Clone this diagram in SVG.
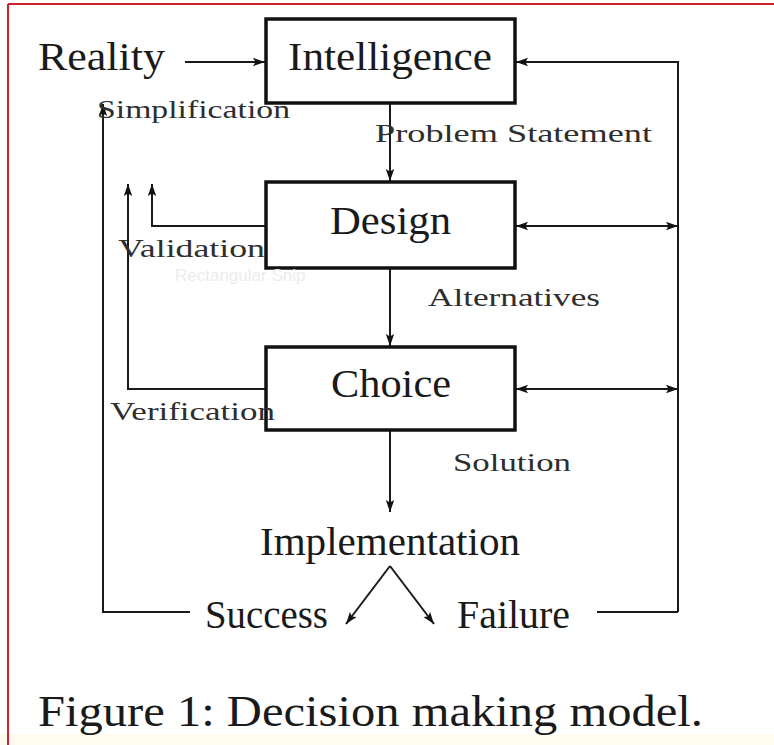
<svg xmlns="http://www.w3.org/2000/svg" width="774" height="745" viewBox="0 0 774 745">
  <defs>
    <marker id="ah" markerUnits="userSpaceOnUse" markerWidth="14" markerHeight="10" refX="12" refY="5" orient="auto-start-reverse">
      <path d="M0,0.8 L12,5 L0,9.2 L2.5,5 Z" fill="#111"/>
    </marker>
    <style>
      .box { fill: #fff; stroke: #111; stroke-width: 3.5; }
      .big { font-family: "Liberation Serif", "DejaVu Serif", serif; font-size: 39px; fill: #1a1a1a; }
      .lbl { font-family: "Liberation Serif", "DejaVu Serif", serif; font-size: 26px; fill: #2e2e2e; }
      .cap { font-family: "Liberation Serif", "DejaVu Serif", serif; font-size: 45px; fill: #1a1a1a; }
      .wire { fill: none; stroke: #1a1a1a; stroke-width: 2; }
      .arr { fill: none; stroke: #1a1a1a; stroke-width: 2; marker-end: url(#ah); }
      .dbl { fill: none; stroke: #1a1a1a; stroke-width: 2; marker-start: url(#ah); marker-end: url(#ah); }
    </style>
  </defs>

  <!-- page background and frame -->
  <rect x="0" y="0" width="774" height="745" fill="#ffffff"/>
  <rect x="0" y="734" width="774" height="11" fill="#fffbee"/>
  <line x1="8" y1="4" x2="774" y2="4" stroke="#d0202a" stroke-width="2"/>
  <line x1="8" y1="4" x2="8" y2="745" stroke="#d0202a" stroke-width="2"/>

  <!-- connectors -->
  <g id="connectors">
    <line class="arr" x1="185" y1="62" x2="265" y2="62"/>
    <polyline class="arr" points="678,612 678,62 516,62"/>
    <line class="wire" x1="597" y1="612" x2="678" y2="612"/>
    <line class="dbl" x1="516" y1="226" x2="678" y2="226"/>
    <line class="dbl" x1="516" y1="389" x2="678" y2="389"/>
    <line class="arr" x1="390" y1="103" x2="390" y2="181"/>
    <line class="arr" x1="390" y1="268" x2="390" y2="346"/>
    <line class="arr" x1="390" y1="431" x2="390" y2="512"/>
    <line class="arr" x1="390" y1="566" x2="346" y2="624"/>
    <line class="arr" x1="390" y1="566" x2="434" y2="624"/>
    <polyline class="arr" points="190,612 103,612 103,104"/>
    <polyline class="arr" points="265,226 152,226 152,184"/>
    <polyline class="arr" points="265,389 128,389 128,184"/>
  </g>

  <!-- nodes -->
  <g id="reality">
    <text class="big" x="38" y="70" textLength="127" lengthAdjust="spacingAndGlyphs">Reality</text>
  </g>
  <g id="intelligence">
    <rect class="box" x="266" y="19" width="249" height="84"/>
    <text class="big" x="288" y="70" textLength="204" lengthAdjust="spacingAndGlyphs">Intelligence</text>
  </g>
  <g id="design">
    <rect class="box" x="266" y="182" width="249" height="86"/>
    <text class="big" x="330" y="234" textLength="121" lengthAdjust="spacingAndGlyphs">Design</text>
  </g>
  <g id="choice">
    <rect class="box" x="266" y="347" width="249" height="83"/>
    <text class="big" x="331" y="397" textLength="120" lengthAdjust="spacingAndGlyphs">Choice</text>
  </g>
  <g id="implementation">
    <text class="big" x="260" y="555" textLength="260" lengthAdjust="spacingAndGlyphs">Implementation</text>
  </g>
  <g id="success">
    <text class="big" x="205" y="628" textLength="123" lengthAdjust="spacingAndGlyphs">Success</text>
  </g>
  <g id="failure">
    <text class="big" x="457" y="628" textLength="113" lengthAdjust="spacingAndGlyphs">Failure</text>
  </g>

  <!-- connector labels -->
  <g id="labels">
    <text class="lbl" x="97" y="118" textLength="193" lengthAdjust="spacingAndGlyphs">Simplification</text>
    <text class="lbl" x="375" y="142" textLength="277" lengthAdjust="spacingAndGlyphs">Problem Statement</text>
    <text class="lbl" x="118" y="257" textLength="147" lengthAdjust="spacingAndGlyphs">Validation</text>
    <text class="lbl" x="428" y="306" textLength="172" lengthAdjust="spacingAndGlyphs">Alternatives</text>
    <text class="lbl" x="110" y="420" textLength="165" lengthAdjust="spacingAndGlyphs">Verification</text>
    <text class="lbl" x="453" y="471" textLength="118" lengthAdjust="spacingAndGlyphs">Solution</text>
  </g>

  <!-- faint overlay text -->
  <text x="175" y="281" font-family="Liberation Sans, Arial, sans-serif" font-size="17" fill="#ececec">Rectangular Snip</text>

  <!-- caption -->
  <text class="cap" x="38" y="726" textLength="665" lengthAdjust="spacingAndGlyphs">Figure 1: Decision making model.</text>
</svg>
